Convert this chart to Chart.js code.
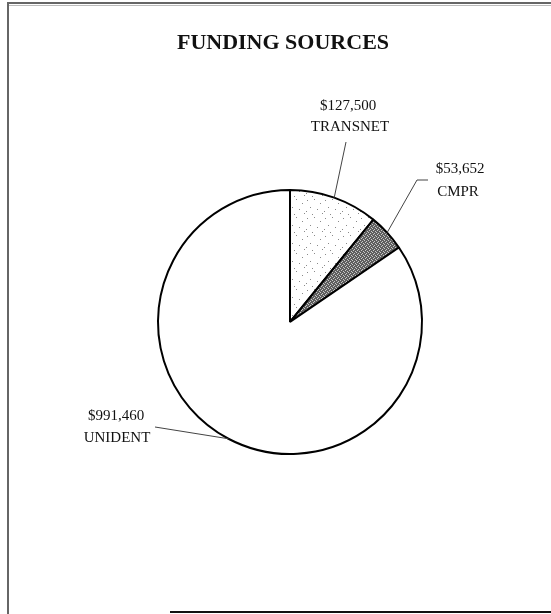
<!DOCTYPE html>
<html>
<head>
<meta charset="utf-8">
<script src="https://cdn.jsdelivr.net/npm/chart.js@4/dist/chart.umd.min.js"></script>
<style>
  html, body { margin: 0; padding: 0; background: #fff; }
  #chart { display: block; }
</style>
</head>
<body>
<canvas id="chart" width="551" height="614"></canvas>
<script>
// funding sources, clockwise from 12 o'clock
const sources = ['TRANSNET', 'CMPR', 'UNIDENT'];
const amounts = [127500, 53652, 991460];
const amountLabels = ['$127,500', '$53,652', '$991,460'];

const FONT = '"Liberation Serif", "Times New Roman", serif';

// fill patterns like the scanned hatching
function makePattern(size, bg, fg, dots) {
  const c = document.createElement('canvas');
  c.width = size; c.height = size;
  const g = c.getContext('2d');
  g.fillStyle = bg;
  g.fillRect(0, 0, size, size);
  g.fillStyle = fg;
  dots.forEach(([x, y]) => g.fillRect(x, y, 1, 1));
  return g.createPattern(c, 'repeat');
}

const ctx0 = document.getElementById('chart').getContext('2d');
const sparseDots = makePattern(18, '#ffffff', '#8a8a8a',
  [[1, 2], [8, 1], [14, 5], [4, 9], [11, 11], [16, 15], [6, 16], [0, 13]]);
const denseDots = makePattern(4, '#5e5e5e', '#c8c8c8',
  [[0, 0], [2, 1], [1, 2], [3, 3]]);

// where each callout text sits and where its leader line bends
const callouts = [
  { path: [[346, 142]], text: [348, 106], line2: [350, 127] },
  { path: [[417, 180], [428, 180]], text: [460, 169], line2: [458, 192] },
  { path: [[155, 427]], text: [116, 416], line2: [117, 438] }
];

const calloutPlugin = {
  id: 'callouts',
  beforeDraw(chart) {
    const c = chart.ctx;
    c.save();
    c.fillStyle = '#fff';
    c.fillRect(0, 0, chart.width, chart.height);
    // frame of the scanned page
    c.strokeStyle = '#666';
    c.lineWidth = 2;
    c.beginPath();
    c.moveTo(8, 614); c.lineTo(8, 3); c.lineTo(551, 3);
    c.stroke();
    c.strokeStyle = '#bbb';
    c.lineWidth = 1;
    c.beginPath();
    c.moveTo(9, 5.5); c.lineTo(551, 5.5);
    c.stroke();
    c.strokeStyle = '#111';
    c.lineWidth = 2;
    c.beginPath();
    c.moveTo(170, 612); c.lineTo(551, 612);
    c.stroke();
    c.restore();
  },
  afterDraw(chart) {
    const c = chart.ctx;
    const arcs = chart.getDatasetMeta(0).data;
    c.save();
    c.fillStyle = '#111';
    c.textAlign = 'center';
    c.textBaseline = 'middle';
    c.font = 'bold 22px ' + FONT;
    c.fillText('FUNDING SOURCES', 283, 43);

    c.font = '15px ' + FONT;
    c.strokeStyle = '#444';
    c.lineWidth = 1;
    arcs.forEach((arc, i) => {
      const p = arc.getProps(['x', 'y', 'startAngle', 'endAngle', 'outerRadius'], true);
      const mid = (p.startAngle + p.endAngle) / 2;
      const cfg = callouts[i];
      c.beginPath();
      c.moveTo(p.x + Math.cos(mid) * p.outerRadius, p.y + Math.sin(mid) * p.outerRadius);
      cfg.path.forEach(([x, y]) => c.lineTo(x, y));
      c.stroke();
      c.fillText(amountLabels[i], cfg.text[0], cfg.text[1]);
      c.fillText(sources[i], cfg.line2[0], cfg.line2[1]);
    });
    c.restore();
  }
};

new Chart(ctx0, {
  type: 'pie',
  data: {
    labels: sources,
    datasets: [{
      data: amounts,
      backgroundColor: [sparseDots, denseDots, '#ffffff'],
      borderColor: '#000',
      borderWidth: 2
    }]
  },
  options: {
    responsive: false,
    animation: false,
    layout: { padding: { left: 157, right: 128, top: 189, bottom: 159 } },
    plugins: {
      legend: { display: false },
      tooltip: { enabled: false },
      title: { display: false }
    }
  },
  plugins: [calloutPlugin]
});
</script>
</body>
</html>
